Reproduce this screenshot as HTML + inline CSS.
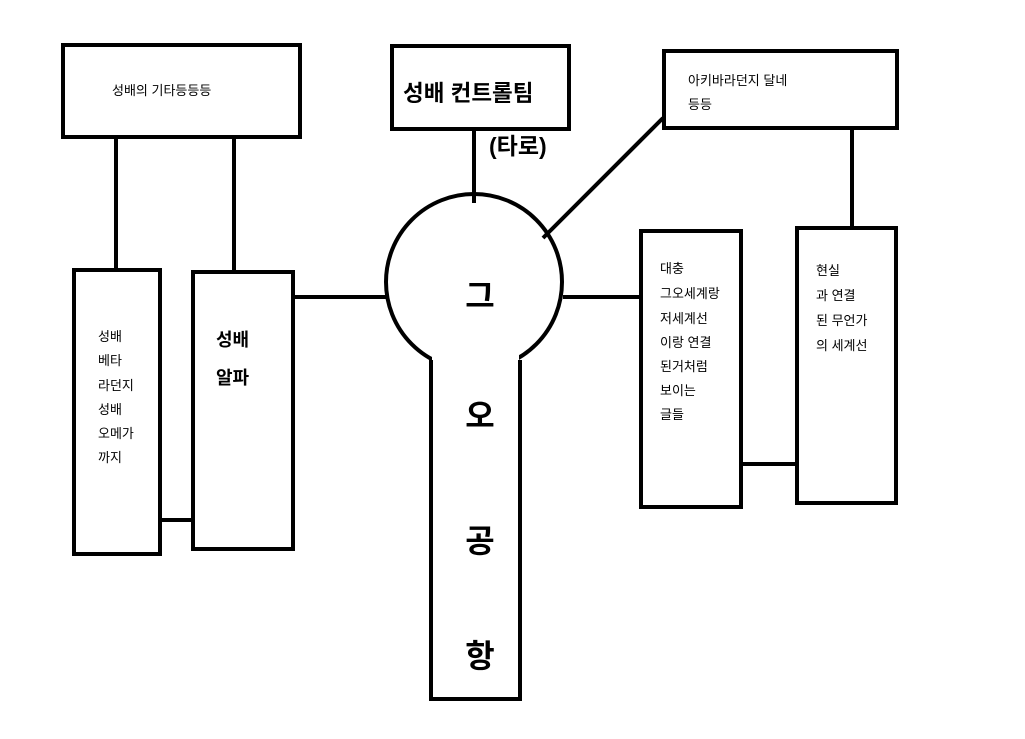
<!DOCTYPE html>
<html><head><meta charset="utf-8"><style>
html,body{margin:0;padding:0;background:#fff;}
svg{display:block;}
text{font-family:"Liberation Sans","Noto Sans CJK KR",sans-serif;fill:#000;}
</style></head><body>
<svg width="1025" height="739" viewBox="0 0 1025 739" xmlns="http://www.w3.org/2000/svg">
<g fill="none" stroke="#000" stroke-width="4">
<rect x="63" y="45" width="237" height="92"/>
<rect x="392" y="46" width="177" height="83"/>
<rect x="664" y="51" width="233" height="77"/>
<line x1="116" y1="137" x2="116" y2="271"/>
<line x1="234" y1="137" x2="234" y2="272"/>
<rect x="74" y="270" width="86" height="284"/>
<rect x="193" y="272" width="100" height="277"/>
<line x1="160" y1="520" x2="195" y2="520"/>
<line x1="293" y1="297" x2="388" y2="297"/>
<line x1="474" y1="129" x2="474" y2="203"/>
<line x1="663" y1="118" x2="543" y2="238"/>
<line x1="563" y1="297" x2="643" y2="297"/>
<rect x="641" y="231" width="100" height="276"/>
<rect x="797" y="228" width="99" height="275"/>
<line x1="852" y1="128" x2="852" y2="228"/>
<line x1="741" y1="464" x2="797" y2="464"/>
<circle cx="474" cy="282" r="88"/>
</g>
<rect x="432" y="340" width="87" height="358" fill="#fff"/>
<g fill="none" stroke="#000" stroke-width="4">
<polyline points="431,360 431,699 520,699 520,360"/>
</g>
<text x="112" y="95" font-size="13">성배의 기타등등등</text>
<text x="403" y="101" font-size="22.5" font-weight="bold">성배 컨트롤팀</text>
<text x="489" y="154" font-size="23" font-weight="bold">(타로)</text>
<text x="688" y="85" font-size="13">아키바라던지 달네</text>
<text x="688" y="109" font-size="13">등등</text>
<g font-size="13">
<text x="98" y="341">성배</text>
<text x="98" y="365">베타</text>
<text x="98" y="390">라던지</text>
<text x="98" y="414">성배</text>
<text x="98" y="438">오메가</text>
<text x="98" y="462">까지</text>
</g>
<text x="216" y="346" font-size="18" font-weight="bold">성배</text>
<text x="216" y="384" font-size="18" font-weight="bold">알파</text>
<g font-size="13">
<text x="660" y="273">대충</text>
<text x="660" y="298">그오세계랑</text>
<text x="660" y="323">저세계선</text>
<text x="660" y="347">이랑 연결</text>
<text x="660" y="371">된거처럼</text>
<text x="660" y="395">보이는</text>
<text x="660" y="419">글들</text>
<text x="816" y="275">현실</text>
<text x="816" y="300">과 연결</text>
<text x="816" y="325">된 무언가</text>
<text x="816" y="350">의 세계선</text>
</g>
<g font-size="32" font-weight="bold" text-anchor="middle">
<text x="480" y="307">그</text>
<text x="480" y="427">오</text>
<text x="480" y="552">공</text>
<text x="480" y="667">항</text>
</g>
</svg>
</body></html>
